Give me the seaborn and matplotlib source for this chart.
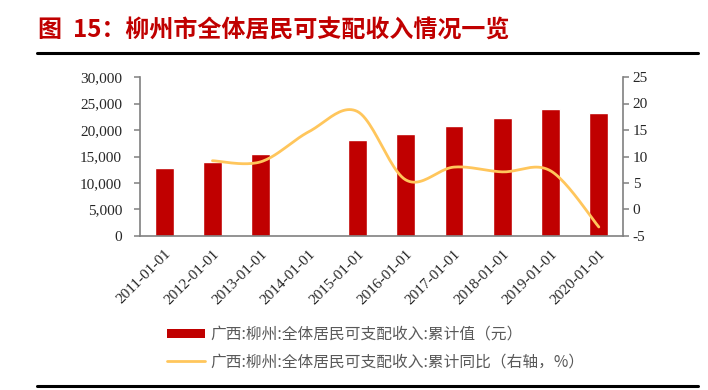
import numpy as np
import pandas as pd
import matplotlib
matplotlib.use("Agg")
import matplotlib.pyplot as plt
import seaborn as sns
from matplotlib.patches import Patch
from matplotlib.lines import Line2D
from matplotlib.ticker import FuncFormatter, MultipleLocator, FixedLocator

# ---- data ----
years = ["2011-01-01", "2012-01-01", "2013-01-01", "2014-01-01", "2015-01-01",
         "2016-01-01", "2017-01-01", "2018-01-01", "2019-01-01", "2020-01-01"]
income = [12800, 14000, 15400, np.nan, 18100, 19250, 20760, 22320, 23900, 23200]
growth = [np.nan, 9.2, 9.0, 14.7, 18.5, 5.6, 8.0, 7.1, 7.3, -3.3]

title = "图  15：柳州市全体居民可支配收入情况一览"
label_bar = "广西:柳州:全体居民可支配收入:累计值（元）"
label_line = "广西:柳州:全体居民可支配收入:累计同比（右轴，%）"

BAR_C = "#C00000"
LINE_C = "#FFC65C"
AX_C = "#808080"

sns.set_style("white")
plt.rcParams["font.family"] = ["Liberation Serif", "Noto Sans CJK SC", "DejaVu Sans"]
plt.rcParams["axes.unicode_minus"] = False

fig = plt.figure(figsize=(7.08, 3.9), dpi=100)
ax = fig.add_axes([140 / 708, 1 - 236 / 390, (623 - 140) / 708, (236 - 77) / 390])

df = pd.DataFrame({"year": years, "income": income})
sns.barplot(data=df, x="year", y="income", color=BAR_C, saturation=1,
            width=0.39, errorbar=None, ax=ax)

ax.set_xlim(-0.5, len(years) - 0.5)
ax.set_ylim(0, 30000)
ax.yaxis.set_major_locator(MultipleLocator(5000))
ax.yaxis.set_major_formatter(FuncFormatter(lambda v, p: f"{int(v):,}"))
ax.set_xlabel("")
ax.set_ylabel("")


# smoothed line (Catmull-Rom style rendering of the data points)
def smooth(xs, ys, n=24):
    pts = list(zip(xs, ys))
    out_x, out_y = [], []
    for i in range(len(pts) - 1):
        p0 = np.array(pts[i - 1] if i > 0 else pts[i])
        p1 = np.array(pts[i])
        p2 = np.array(pts[i + 1])
        p3 = np.array(pts[i + 2] if i + 2 < len(pts) else pts[i + 1])
        for t in np.linspace(0, 1, n, endpoint=(i == len(pts) - 2)):
            t2, t3 = t * t, t * t * t
            pt = 0.5 * ((2 * p1) + (-p0 + p2) * t + (2 * p0 - 5 * p1 + 4 * p2 - p3) * t2
                        + (-p0 + 3 * p1 - 3 * p2 + p3) * t3)
            out_x.append(pt[0])
            out_y.append(pt[1])
    return np.array(out_x), np.array(out_y)


gx = [i for i, g in enumerate(growth) if not np.isnan(g)]
gy = [g for g in growth if not np.isnan(g)]
sx, sy = smooth(gx, gy)

ax2 = ax.twinx()
sns.lineplot(x=sx, y=sy, ax=ax2, color=LINE_C, linewidth=2.0, sort=False)
ax2.set_ylim(-5, 25)
ax2.yaxis.set_major_locator(MultipleLocator(5))
ax2.set_xlim(-0.5, len(years) - 0.5)

# ticks
ax.set_xticks(np.arange(len(years)))
ax.set_xticklabels(years, rotation=45, ha="right", rotation_mode="anchor")
ax.xaxis.set_minor_locator(FixedLocator(np.arange(-0.5, len(years), 1)))
ax.tick_params(axis="x", which="major", length=0, pad=8, labelsize=11, labelcolor="#262626")
ax.tick_params(axis="x", which="minor", length=4, width=1.1, color=AX_C, direction="out")
ax.tick_params(axis="y", length=4, width=1.1, color=AX_C, direction="out", left=True,
               labelsize=11, labelcolor="#262626", pad=9)
ax2.tick_params(axis="y", length=4, width=1.1, color=AX_C, direction="out", right=True,
                labelsize=11, labelcolor="#262626", pad=3)

for a in (ax, ax2):
    for s in a.spines.values():
        s.set_color(AX_C)
        s.set_linewidth(1.2)
    a.spines["top"].set_visible(False)
ax.spines["right"].set_visible(False)
ax2.spines["left"].set_visible(False)
ax2.spines["bottom"].set_visible(False)
ax2.set_ylabel("")

# title and rules
fig.text(38 / 708, 1 - 31 / 390, title, color=BAR_C, fontsize=17.3, fontweight="bold",
         family=["Noto Sans CJK SC", "DejaVu Sans"], va="center", ha="left")
fig.add_artist(Line2D([37 / 708, 698 / 708], [1 - 52.5 / 390] * 2, color="black", lw=2.2))
fig.add_artist(Line2D([37 / 708, 698 / 708], [1 - 385.5 / 390] * 2, color="black", lw=2.2))

# legend
handles = [Patch(facecolor=BAR_C, edgecolor="none"),
           Line2D([0], [0], color=LINE_C, lw=2.0)]
fig.legend(handles, [label_bar, label_line], loc="upper left",
           bbox_to_anchor=(167 / 708, 1 - 326 / 390), frameon=False,
           handlelength=2.45, handleheight=0.45, handletextpad=0.3, labelspacing=0.65,
           prop={"family": ["Noto Sans CJK SC", "DejaVu Sans"], "size": 11.3},
           labelcolor="#595959", borderaxespad=0, borderpad=0)

fig.savefig("out.png", dpi=100)
